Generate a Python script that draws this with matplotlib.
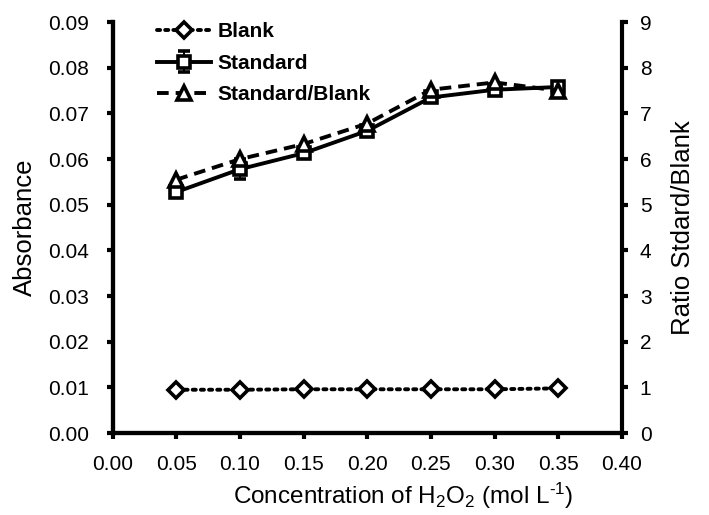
import matplotlib
matplotlib.use("Agg")
import matplotlib.pyplot as plt
import numpy as np

plt.rcParams['font.family'] = ['Liberation Sans', 'DejaVu Sans']
plt.rcParams['mathtext.fontset'] = 'custom'
plt.rcParams['mathtext.rm'] = 'Liberation Sans'
plt.rcParams['mathtext.it'] = 'Liberation Sans:italic'
plt.rcParams['mathtext.bf'] = 'Liberation Sans:bold'

conc = [0.05, 0.10, 0.15, 0.20, 0.25, 0.30, 0.35]
blank = [0.0095, 0.0095, 0.0096, 0.0096, 0.0096, 0.0096, 0.0098]
standard = [0.0528, 0.0578, 0.0613, 0.0662, 0.0735, 0.0752, 0.0758]
standard_err = [0.0008, 0.0022, 0.0008, 0.0008, 0.0008, 0.0007, 0.0010]
ratio = [5.55, 6.0, 6.33, 6.78, 7.52, 7.68, 7.5]

fig = plt.figure(figsize=(7.09, 5.15), dpi=100)
ax = fig.add_axes([0.159, 0.159, 0.718, 0.798])
ax2 = ax.twinx()

lw = 2.8
mk = dict(markerfacecolor='white', markeredgecolor='black', markeredgewidth=2.6)

l1, = ax.plot(conc, blank, color='black', linestyle=(0, (0.8, 1.3)), lw=lw,
              marker='D', markersize=8.5, dash_capstyle='round', label='Blank', **mk)
l2 = ax.errorbar(conc, standard, yerr=standard_err, color='black', linestyle='-', lw=lw,
                 marker='s', markersize=8.5, capsize=4, elinewidth=1.5, capthick=1.5,
                 label='Standard', **mk)
l3, = ax2.plot(conc, ratio, color='black', linestyle=(0, (3, 1.8)), lw=lw,
               marker='^', markersize=9.5, label='Standard/Blank', **mk)

ax.set_xlim(0, 0.40)
ax.set_ylim(0, 0.09)
ax2.set_ylim(0, 9)
ax.set_xticks(np.arange(0, 0.41, 0.05))
ax.set_yticks(np.arange(0, 0.091, 0.01))
ax2.set_yticks(range(0, 10))
ax.xaxis.set_major_formatter(matplotlib.ticker.FormatStrFormatter('%.2f'))
ax.yaxis.set_major_formatter(matplotlib.ticker.FormatStrFormatter('%.2f'))

for a in (ax, ax2):
    a.spines['top'].set_visible(False)
    for s in a.spines.values():
        s.set_linewidth(3)
    a.tick_params(direction='out', length=4, width=3, labelsize=15)
ax.spines['right'].set_visible(False)
ax.tick_params(axis='y', pad=13)
ax.tick_params(axis='x', pad=12)
ax2.tick_params(axis='y', pad=9)

ax.set_xlabel('Concentration of H$_2$O$_2$ (mol L$^{\u2010 1}$)', fontsize=17.5)
ax.xaxis.set_label_coords(0.57, -0.115)
ax.set_ylabel('Absorbance', fontsize=18.5, labelpad=8)
ax2.set_ylabel('Ratio Stdard/Blank', fontsize=18.5, labelpad=14)

leg = ax.legend([l1, l2, l3], ['Blank', 'Standard', 'Standard/Blank'],
                loc='upper left', bbox_to_anchor=(0.05, 1.045), frameon=False,
                fontsize=15, handlelength=2.6, labelspacing=0.6, handletextpad=0.3)
for t in leg.get_texts():
    t.set_fontweight('bold')

fig.savefig('out.png', dpi=100)
